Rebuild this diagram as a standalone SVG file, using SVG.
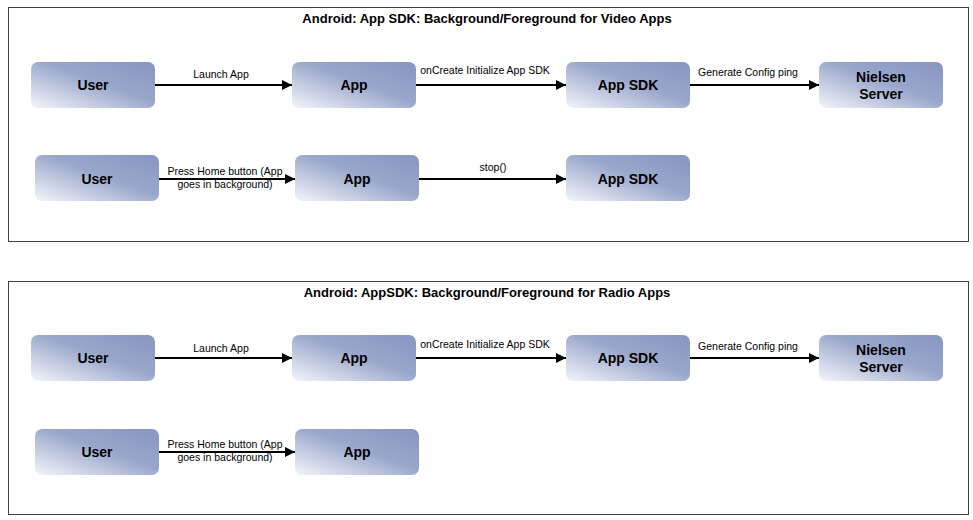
<svg xmlns="http://www.w3.org/2000/svg" width="973" height="520" viewBox="0 0 973 520">
<defs>
<linearGradient id="g" x1="1" y1="0" x2="0" y2="1">
<stop offset="0" stop-color="#8796c0"/>
<stop offset="0.45" stop-color="#9aa7cc"/>
<stop offset="1" stop-color="#f4f5fa"/>
</linearGradient>
<marker id="a" viewBox="0 0 10 10" refX="10" refY="5" markerWidth="5" markerHeight="5" orient="auto"><path d="M0,0L10,5L0,10z" fill="#000"/></marker>
</defs>
<style>
.f{fill:#fff;stroke:#404040;stroke-width:1}
.n rect{fill:url(#g)}
.n text{font-family:"Liberation Sans",Arial,sans-serif;font-weight:bold;font-size:14px;text-anchor:middle;fill:#000}
.t{font-family:"Liberation Sans",Arial,sans-serif;font-weight:bold;font-size:13px;text-anchor:middle}
.c line{stroke:#000;stroke-width:2;marker-end:url(#a)}
.l{font-family:"Liberation Sans",Arial,sans-serif;font-size:10.5px;text-anchor:middle}
</style>
<rect width="973" height="520" fill="#fff"/>
<rect class="f" x="8.5" y="7.5" width="960" height="234"/>
<rect class="f" x="8.5" y="281.5" width="960" height="233"/>
<text class="t" x="487" y="23">Android: App SDK: Background/Foreground for Video Apps</text>
<text class="t" x="487" y="297">Android: AppSDK: Background/Foreground for Radio Apps</text>
<g class="c">
<line x1="155" y1="85" x2="292" y2="85"/>
<line x1="416" y1="85" x2="566" y2="85"/>
<line x1="690" y1="85" x2="819" y2="85"/>
<line x1="159" y1="179" x2="295" y2="179"/>
<line x1="419" y1="179" x2="566" y2="179"/>
<line x1="155" y1="358" x2="292" y2="358"/>
<line x1="416" y1="358" x2="566" y2="358"/>
<line x1="690" y1="358" x2="819" y2="358"/>
<line x1="159" y1="452" x2="295" y2="452"/>
</g>
<g class="l">
<text x="221" y="78">Launch App</text>
<text x="485" y="74">onCreate Initialize App SDK</text>
<text x="748" y="76">Generate Config ping</text>
<text x="225" y="175">Press Home button (App</text>
<text x="225" y="188">goes in background)</text>
<text x="493" y="171">stop()</text>
<text x="221" y="352">Launch App</text>
<text x="485" y="348">onCreate Initialize App SDK</text>
<text x="748" y="350">Generate Config ping</text>
<text x="225" y="448">Press Home button (App</text>
<text x="225" y="461">goes in background)</text>
</g>
<g id="n1" class="n"><rect x="31" y="62" width="124" height="46" rx="7"/><text x="93" y="90">User</text></g>
<g id="n2" class="n"><rect x="292" y="62" width="124" height="46" rx="7"/><text x="354" y="90">App</text></g>
<g id="n3" class="n"><rect x="566" y="62" width="124" height="46" rx="7"/><text x="628" y="90">App SDK</text></g>
<g id="n4" class="n"><rect x="819" y="62" width="124" height="46" rx="7"/><text x="881" y="82">Nielsen</text><text x="881" y="99">Server</text></g>
<g id="n5" class="n"><rect x="35" y="155" width="124" height="46" rx="7"/><text x="97" y="184">User</text></g>
<g id="n6" class="n"><rect x="295" y="155" width="124" height="46" rx="7"/><text x="357" y="184">App</text></g>
<g id="n7" class="n"><rect x="566" y="155" width="124" height="46" rx="7"/><text x="628" y="184">App SDK</text></g>
<g id="n8" class="n"><rect x="31" y="335" width="124" height="46" rx="7"/><text x="93" y="363">User</text></g>
<g id="n9" class="n"><rect x="292" y="335" width="124" height="46" rx="7"/><text x="354" y="363">App</text></g>
<g id="n10" class="n"><rect x="566" y="335" width="124" height="46" rx="7"/><text x="628" y="363">App SDK</text></g>
<g id="n11" class="n"><rect x="819" y="335" width="124" height="46" rx="7"/><text x="881" y="355">Nielsen</text><text x="881" y="372">Server</text></g>
<g id="n12" class="n"><rect x="35" y="429" width="124" height="46" rx="7"/><text x="97" y="457">User</text></g>
<g id="n13" class="n"><rect x="295" y="429" width="124" height="46" rx="7"/><text x="357" y="457">App</text></g>
</svg>
